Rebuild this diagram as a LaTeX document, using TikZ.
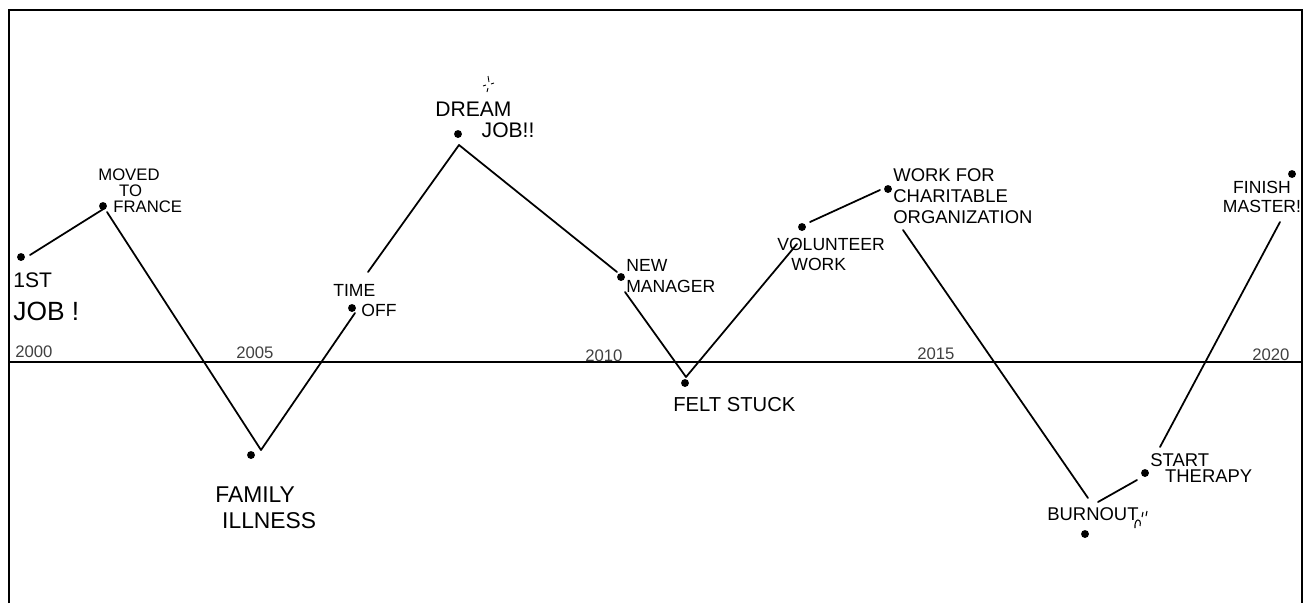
\documentclass[tikz,border=0pt]{standalone}
\usepackage{fontspec}
\setmainfont{Liberation Sans}
\usepackage{tikz}
\usetikzlibrary{positioning}
\tikzstyle{event} = [circle, fill=black, inner sep=0pt, minimum size=4.5pt]
\tikzstyle{caption} = [align=left, inner sep=0pt, font=\fontsize{10}{11.4}\selectfont]
\tikzstyle{bigcaption} = [align=left, inner sep=0pt, font=\fontsize{13}{15}\selectfont]
\tikzstyle{year} = [inner sep=0pt, font=\fontsize{9.5}{10}\selectfont, text=black!75]
\tikzstyle{curve} = [line width=1pt, line cap=round, line join=round]

\begin{document}
\begin{tikzpicture}[x=0.02cm, y=-0.02cm]
\useasboundingbox (0,0) rectangle (1305,603);
% frame, open at the bottom
\draw [line width=1.3pt] (9,603) -- (9,10) -- (1302,10) -- (1302,603);
% time axis
\coordinate (t0) at (9,362);
\coordinate (t1) at (1302,362);
\draw [line width=1pt] (t0) -- (t1);
\node (y2000) [year, anchor=base west] at (15,357) {2000};
\node (y2005) [year, anchor=base west] at (236,358) {2005};
\node (y2010) [year, anchor=base west] at (585,361) {2010};
\node (y2015) [year, anchor=base west] at (917,359) {2015};
\node (y2020) [year, anchor=base west] at (1252,360) {2020};

% events
\node (job) [event] at (21,257) {};
\node (france) [event] at (103,206) {};
\node (illness) [event] at (251,455) {};
\node (timeoff) [event] at (352,308) {};
\node (dream) [event] at (458,134) {};
\node (manager) [event] at (621,277) {};
\node (stuck) [event] at (685,383) {};
\node (volunteer) [event] at (802,227) {};
\node (charity) [event] at (888,189) {};
\node (burnout) [event] at (1085,534) {};
\node (therapy) [event] at (1145,473) {};
\node (master) [event] at (1292,174) {};

% labels
\node (l-job) [bigcaption, anchor=north west, font=\fontsize{15}{19}\selectfont] at (13,272) {{\fontsize{12}{12}\selectfont 1ST}\\JOB !};
\node (l-france) [caption, anchor=north west, font=\fontsize{9.5}{9.2}\selectfont] at (98,168) {MOVED\\\hspace*{1.25em}TO\\\hspace*{0.9em}FRANCE};
\node (l-illness) [bigcaption, anchor=north west] at (215,486) {FAMILY\\\hspace*{0.3em}ILLNESS};
\node (l-timeoff) [caption, anchor=north west] at (333,284) {TIME\\\hspace*{1.6em}OFF};
\node (l-dream) [bigcaption, anchor=north west, font=\fontsize{12}{11.5}\selectfont] at (435,102) {DREAM\\\hspace*{2.2em}JOB!!};
\node (l-manager) [caption, anchor=north west, font=\fontsize{10}{12}\selectfont] at (626,259) {NEW\\MANAGER};
\node (l-stuck) [caption, anchor=north west, font=\fontsize{11.5}{13}\selectfont] at (673,397) {FELT STUCK};
\node (l-volunteer) [caption, anchor=north west] at (777,238) {VOLUNTEER\\\hspace*{0.8em}WORK};
\node (l-charity) [caption, anchor=north west, font=\fontsize{10.5}{12}\selectfont] at (893,168) {WORK FOR\\CHARITABLE\\ORGANIZATION};
\node (l-burnout) [caption, anchor=north west, font=\fontsize{10.5}{12}\selectfont] at (1047,507) {BURNOUT};
\node (l-therapy) [caption, anchor=north west, font=\fontsize{10.5}{9.5}\selectfont] at (1150,453) {START\\\hspace*{0.8em}THERAPY};
\node (l-master) [caption, align=center, anchor=north, font=\fontsize{10}{10.5}\selectfont] at (1262,181) {FINISH\\MASTER!};

% the life line
\coordinate (c1) at (30,255);
\coordinate (c2) at (105,208);
\coordinate (c3) at (107,212);
\coordinate (c4) at (261,450);
\coordinate (c5) at (355,313);
\coordinate (c6) at (368,272);
\coordinate (c7) at (459,145);
\coordinate (c8) at (617,272);
\coordinate (c9) at (625,292);
\coordinate (c10) at (686,377);
\coordinate (c11) at (797,244);
\coordinate (c12) at (810,222);
\coordinate (c13) at (880,190);
\coordinate (c14) at (903,230);
\coordinate (c15) at (1088,498);
\coordinate (c16) at (1098,502);
\coordinate (c17) at (1137,480);
\coordinate (c18) at (1160,447);
\coordinate (c19) at (1280,222);
\draw [curve] (c1) -- (c2);
\draw [curve] (c3) -- (c4) -- (c5);
\draw [curve] (c6) -- (c7) -- (c8);
\draw [curve] (c9) -- (c10) -- (c11);
\draw [curve] (c12) -- (c13);
\draw [curve] (c14) -- (c15);
\draw [curve] (c16) -- (c17);
\draw [curve] (c18) -- (c19);

% little marks
\draw [line width=0.5pt] (488,76) -- (489,82) (483,86) -- (486,85) (491,84) -- (494,83) (488,88) -- (487,92);
\draw [line width=0.6pt] (1135,528) .. controls (1134,518) and (1142,517) .. (1140,526);
\draw [line width=0.6pt] (1143,512) -- (1142,517) (1147,511) -- (1146,516);
\end{tikzpicture}
\end{document}
